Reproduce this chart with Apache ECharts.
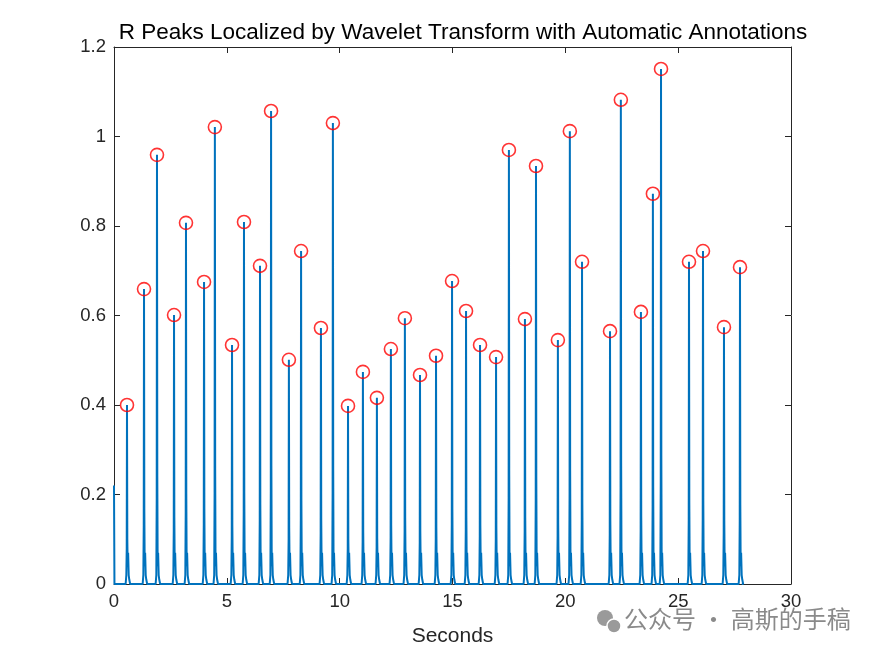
<!DOCTYPE html>
<html><head><meta charset="utf-8">
<script src="https://cdn.jsdelivr.net/npm/echarts@6/dist/echarts.min.js"></script>
<style>html,body{margin:0;padding:0;background:#fff}#c{width:875px;height:656px}</style>
</head><body><div id="c"></div>
<script>
// Peak times (seconds) and amplitudes
const peakTimes = [0.576,1.33,1.905,2.66,3.19,3.99,4.47,5.23,5.76,6.47,6.96,7.75,8.29,9.17,9.70,10.37,11.03,11.65,12.27,12.89,13.56,14.27,14.98,15.60,16.22,16.93,17.50,18.21,18.70,19.67,20.20,20.74,21.98,22.46,23.35,23.88,24.24,25.48,26.10,27.03,27.74];
const peakValues = [0.400,0.659,0.959,0.601,0.807,0.675,1.021,0.534,0.809,0.711,1.057,0.501,0.744,0.572,1.030,0.398,0.474,0.416,0.525,0.594,0.467,0.510,0.677,0.610,0.534,0.507,0.970,0.592,0.934,0.545,1.012,0.720,0.565,1.082,0.608,0.872,1.151,0.720,0.744,0.574,0.708];
// signal start/end
const startPoint = [0, 0.22];
const endTime = 27.82;
const xTicks = [0,5,10,15,20,25,30];
const yTicks = [0,0.2,0.4,0.6,0.8,1,1.2];

// build signal: flat baseline with spikes at each R peak
const signal = [startPoint, [0.02, 0]];
for (let i = 0; i < peakTimes.length; i++) {
  const t = peakTimes[i], a = peakValues[i];
  signal.push([t-0.06,0],[t-0.03,0.02],[t-0.012,0.2*a],[t,a],[t+0.014,0.25*a],[t+0.03,0.04],[t+0.05,0.07],[t+0.075,0.02],[t+0.1,0.01],[t+0.14,0]);
}
signal.push([endTime, 0]);
const peaks = peakTimes.map((t,i)=>[t, peakValues[i]]);

const chart = echarts.init(document.getElementById('c'), null, {renderer:'canvas'});
const font = 'Arial, Liberation Sans, sans-serif';
const axisCommon = {
  axisLine:{show:true, onZero:false, lineStyle:{color:'#262626', width:1}},
  axisTick:{show:true, inside:true, length:6, lineStyle:{color:'#262626'}},
  splitLine:{show:false}
};
chart.setOption({
  animation:false,
  backgroundColor:'#fff',
  title:{text:'R Peaks Localized by Wavelet Transform with Automatic Annotations', left:458, textAlign:'center', top:16,
    textStyle:{fontFamily:font, fontSize:22.5, fontWeight:'normal', color:'#000'}},
  grid:{left:114, right:84, top:47, bottom:72},
  xAxis:[
    Object.assign({type:'value', min:0, max:30, interval:5, position:'bottom',
      name:'Seconds', nameLocation:'middle', nameGap:42,
      nameTextStyle:{fontFamily:font, fontSize:21, color:'#262626'},
      axisLabel:{fontFamily:font, fontSize:18.5, color:'#262626', margin:8}}, axisCommon),
    Object.assign({type:'value', min:0, max:30, interval:5, position:'top', axisLabel:{show:false}}, axisCommon)
  ],
  yAxis:[
    Object.assign({type:'value', min:0, max:1.2, interval:0.2, position:'left',
      axisLabel:{fontFamily:font, fontSize:18.5, color:'#262626', margin:8,
        formatter:v=>String(Math.round(v*10)/10)}}, axisCommon),
    Object.assign({type:'value', min:0, max:1.2, interval:0.2, position:'right', axisLabel:{show:false}}, axisCommon)
  ],
  graphic:[
    {type:'text', left:624, top:607, style:{text:'公众号 · 高斯的手稿', font:'24px "Noto Sans CJK SC"', fill:'#8a8a8a'}},
    {type:'circle', shape:{cx:605, cy:618, r:8}, style:{fill:'#9a9a9a'}},
    {type:'circle', shape:{cx:614, cy:626, r:7}, style:{fill:'#9a9a9a', stroke:'#fff', lineWidth:1.5}}
  ],
  series:[
    {type:'line', data:signal, showSymbol:false, lineStyle:{color:'#0072BD', width:2}, z:2},
    {type:'scatter', data:peaks, symbol:'circle', symbolSize:13,
      itemStyle:{color:'rgba(0,0,0,0)', borderColor:'#FF0000', borderWidth:1.6}, z:3}
  ]
});
</script></body></html>
